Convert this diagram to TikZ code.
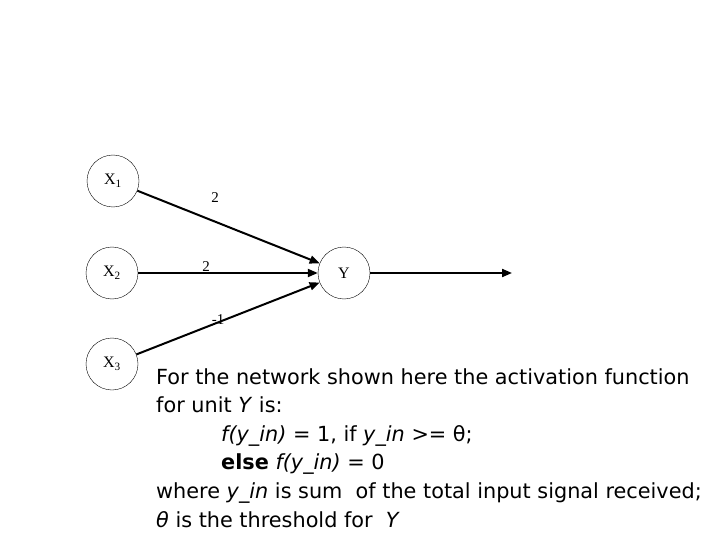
\documentclass[tikz,border=0pt]{standalone}
\usepackage{fontspec}
\usepackage{tikz}
\usetikzlibrary{arrows.meta, positioning}
\newfontfamily\unitfont{Liberation Serif}
\newfontfamily\notefont{DejaVu Sans}

\begin{document}
\begin{tikzpicture}[
    x=1pt, y=-1pt,
    neuron/.style={draw, circle, minimum size=52pt, inner sep=0pt, font=\unitfont\fontsize{16}{16}\selectfont},
    weight/.style={font=\unitfont\fontsize{15}{15}\selectfont, inner sep=0pt},
    arrow/.style={-{Triangle[length=10pt, width=8pt]}, line width=2pt}
]
    \useasboundingbox (0,0) rectangle (720,540);

    \node[neuron] (x1) at (113,181) {X\textsubscript{1}};
    \node[neuron] (x2) at (112,273) {X\textsubscript{2}};
    \node[neuron] (x3) at (112,364) {X\textsubscript{3}};
    \node[neuron] (y)  at (344,273) {Y};
    \coordinate (out) at (512,273);

    \node[weight] (w1) at (215,198) {2};
    \node[weight] (w2) at (206,267) {2};
    \node[weight] (w3) at (218,320) {-1};

    \draw[arrow] (x1) -- (y);
    \draw[arrow] (x2) -- (y);
    \draw[arrow] (x3) -- (y);
    \draw[arrow] (y) -- (out);

    \node[anchor=north west, align=left, inner sep=0pt, font=\notefont\fontsize{20.8}{28.6}\selectfont] (note) at (156,368)
        {For the network shown here the activation function\\
         for unit \textit{Y} is:\\
         \hspace*{65pt}\textit{f(y\_in)} = 1, if \textit{y\_in} >= θ;\\
         \hspace*{65pt}\textbf{else} \textit{f(y\_in)} = 0\\
         where \textit{y\_in} is sum\ \ of the total input signal received;\\
         \textit{θ} is the threshold for \ \textit{Y}};
\end{tikzpicture}
\end{document}
